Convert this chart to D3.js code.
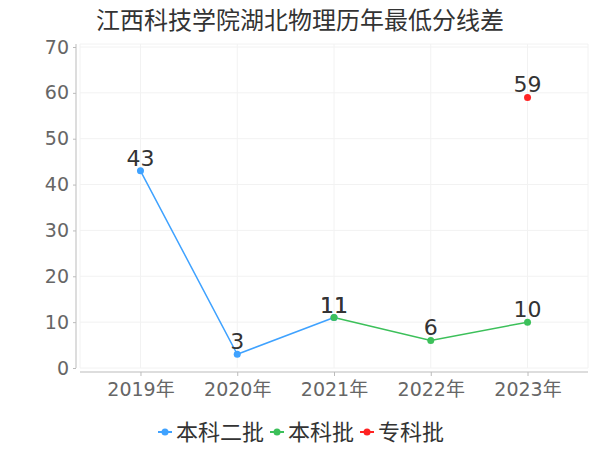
<!DOCTYPE html>
<html>
<head>
<meta charset="utf-8">
<script src="https://cdn.jsdelivr.net/npm/d3@7/dist/d3.min.js"></script>
<style>
  html, body { margin: 0; padding: 0; background: #fff; }
  svg { display: block; font-family: "DejaVu Sans", "Noto Sans CJK SC", sans-serif; }
</style>
</head>
<body>
<svg id="chart" width="600" height="450"></svg>
<script>
const title = "江西科技学院湖北物理历年最低分线差";
const years = ["2019年", "2020年", "2021年", "2022年", "2023年"];
const seriesNames = ["本科二批", "本科批", "专科批"];
const seriesColors = ["#3fa2ff", "#3cc05a", "#ff2323"];
const benke2 = [43, 3, 11, null, null];
const benke = [null, null, 11, 6, 10];
const zhuanke = [null, null, null, null, 59];
const yTicks = [0, 10, 20, 30, 40, 50, 60, 70];

(function () {
const svg = d3.select("#chart");
const pL = 80, pR = 588, pT = 47, pB = 368;

const x = d3.scalePoint().domain(years).range([pL, pR]).padding(0.625);
const y = d3.scaleLinear().domain([0, 70]).range([pB, pT]);

// title
svg.append("text").attr("x", 300).attr("y", 29).attr("text-anchor", "middle")
  .attr("font-size", 24).attr("fill", "#333").text(title);

// grid
const grid = svg.append("g");
grid.selectAll("line.h").data(yTicks).join("line")
  .attr("x1", pL).attr("x2", pR).attr("y1", d => y(d)).attr("y2", d => y(d))
  .attr("stroke", "#f2f2f2").attr("stroke-width", 1);
const vx = [pL].concat(years.map(d => x(d))).concat([pR]);
grid.selectAll("line.v").data(vx).join("line")
  .attr("x1", d => d).attr("x2", d => d).attr("y1", pT - 3).attr("y2", pB)
  .attr("stroke", "#f2f2f2").attr("stroke-width", 1);
grid.append("line").attr("x1", pL).attr("x2", pR).attr("y1", pT - 3).attr("y2", pT - 3)
  .attr("stroke", "#f2f2f2");

// y axis
const yAxis = d3.axisLeft(y).tickValues(yTicks).tickSize(3).tickPadding(4);
const gy = svg.append("g").attr("transform", "translate(76,0)").call(yAxis);
gy.select(".domain").attr("stroke", "#bbb").attr("d", `M0,${pT - 3}V${pB}`);
gy.selectAll(".tick line").attr("stroke", "#bbb");
gy.selectAll(".tick text").attr("fill", "#666").attr("font-size", 19)
  .attr("font-family", "DejaVu Sans, sans-serif");

// x axis
const xAxis = d3.axisBottom(x).tickSize(4).tickPadding(7);
const gx = svg.append("g").attr("transform", `translate(0,${pB + 4})`).call(xAxis);
gx.select(".domain").attr("stroke", "#bbb").attr("d", `M${pL},0H${pR}`);
gx.selectAll(".tick line").attr("stroke", "#bbb");
gx.selectAll(".tick text").attr("fill", "#666").attr("font-size", 19)
  .attr("font-family", "DejaVu Sans, Noto Sans CJK SC, sans-serif");

// series
const allSeries = [benke2, benke, zhuanke];
allSeries.forEach((vals, i) => {
  const pts = years.map((yr, j) => ({ yr, v: vals[j] }));
  const line = d3.line().defined(d => d.v !== null).x(d => x(d.yr)).y(d => y(d.v));
  svg.append("path").datum(pts).attr("d", line).attr("fill", "none")
    .attr("stroke", seriesColors[i]).attr("stroke-width", 1.5);
});
allSeries.forEach((vals, i) => {
  const pts = years.map((yr, j) => ({ yr, v: vals[j] })).filter(d => d.v !== null);
  const g = svg.append("g");
  g.selectAll("circle").data(pts).join("circle")
    .attr("cx", d => x(d.yr)).attr("cy", d => y(d.v)).attr("r", 3.5)
    .attr("fill", seriesColors[i]);
  g.selectAll("text").data(pts).join("text")
    .attr("x", d => x(d.yr)).attr("y", d => y(d.v) - 5).attr("text-anchor", "middle")
    .attr("font-size", 22).attr("fill", "#333").text(d => d.v);
});

// legend
const legendItems = seriesNames.map((n, i) => ({ n, c: seriesColors[i] }));
const lg = svg.append("g").attr("transform", "translate(0,432)");
let cx = 158;
legendItems.forEach((d, i) => {
  const g = lg.append("g").attr("transform", `translate(${cx},0)`);
  g.append("line").attr("x1", 0).attr("x2", 14).attr("y1", 0).attr("y2", 0)
    .attr("stroke", d.c).attr("stroke-width", 2);
  g.append("circle").attr("cx", 7).attr("cy", 0).attr("r", 3.5).attr("fill", d.c);
  const t = g.append("text").attr("x", 18).attr("y", 8).attr("font-size", 22).attr("fill", "#333")
    .attr("font-family", "Noto Sans CJK SC, sans-serif").text(d.n);
  cx += 18 + t.node().getComputedTextLength() + 6;
});
})();
</script>
</body>
</html>
